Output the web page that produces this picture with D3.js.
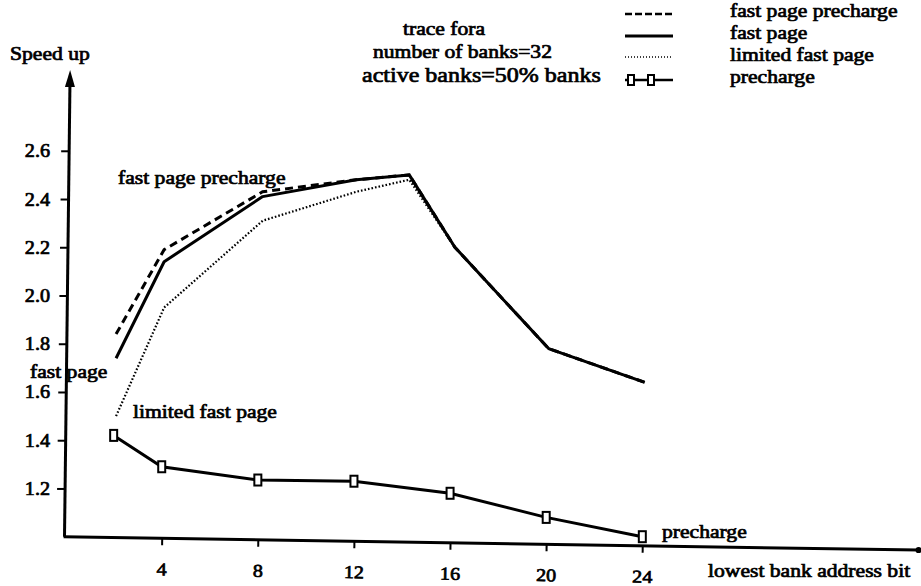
<!DOCTYPE html>
<html><head><meta charset="utf-8">
<script src="https://cdn.jsdelivr.net/npm/d3@7"></script>
<style>
body{margin:0;background:#fff}
svg{display:block;background:#fff}
text{font-family:"Liberation Serif","Times New Roman",serif;fill:#000}
</style>
</head><body>
<svg id="c" width="921" height="586"></svg>
<script>
// ---- data ----
const xTicks = [4, 8, 12, 16, 20, 24];
const yTicks = [1.2, 1.4, 1.6, 1.8, 2.0, 2.2, 2.4, 2.6];
const lineX = [2.1, 4.1, 8.2, 12.1, 14.3, 16.2, 20.1, 24.1];
const fastPagePrecharge = [1.84, 2.19, 2.43, 2.48, 2.50, 2.20, 1.78, 1.64];
const fastPage          = [1.74, 2.14, 2.41, 2.48, 2.50, 2.20, 1.78, 1.64];
const limitedFastPage   = [1.50, 1.95, 2.31, 2.43, 2.48, 2.20, 1.78, 1.64];
const prechargeX = [2, 4, 8, 12, 16, 20, 24];
const precharge  = [1.42, 1.29, 1.235, 1.23, 1.18, 1.08, 1.0];
const legendLabels = ["fast page precharge", "fast page", "limited fast page", "precharge"];
const titleLines = ["trace fora", "number of banks=32", "active banks=50% banks"];

// ---- setup ----
const svg = d3.select("#c");
const X0 = 65.6, Y0 = 536.7;
const x = d3.scaleLinear().domain([0, 35.5]).range([X0, X0 + 35.5 * 24.03]);
const y = d3.scaleLinear().domain([1, 2.92]).range([Y0, Y0 - 1.92 * 241.2]);
const FS = 18, STRETCH = 1.2, TS = 0.7;

function stretch(sel, f = STRETCH) {
  sel.each(function () {
    const w = this.getComputedTextLength();
    d3.select(this).attr("textLength", w * f).attr("lengthAdjust", "spacingAndGlyphs");
  });
  return sel;
}
function label(px, py, str, size = FS, anchor = "start") {
  const t = svg.append("text").attr("x", px).attr("y", py)
    .attr("text-anchor", anchor)
    .style("font-size", size + "px")
    .attr("stroke", "#000").attr("stroke-width", TS)
    .text(str);
  return stretch(t);
}

// ---- y axis ----
const axisXAt = yy => 64.5 + (537 - yy) * (5.5 / 457);
const yAxis = svg.append("g").attr("transform", `translate(66,0)`)
  .call(d3.axisLeft(y).tickValues(yTicks).tickSize(7).tickSizeOuter(0)
    .tickFormat(d3.format(".1f")));
yAxis.select(".domain").remove();
yAxis.selectAll(".tick line")
  .attr("stroke-width", 2)
  .attr("x1", d => axisXAt(y(d)) - 66 - 8)
  .attr("x2", d => axisXAt(y(d)) - 66);
yAxis.selectAll(".tick text")
  .attr("x", -16).attr("dy", null).attr("y", 6)
  .attr("font-family", null).attr("font-size", null)
  .style("font-size", FS + "px")
  .attr("stroke", "#000").attr("stroke-width", TS)
  .call(stretch, 1.12);
svg.append("path")
  .attr("d", `M${axisXAt(y(1))},${y(1)}L${axisXAt(84)},84`)
  .attr("stroke", "#000").attr("stroke-width", 3).attr("fill", "none");
svg.append("path")
  .attr("d", `M${axisXAt(70)},70L${axisXAt(86) - 5},87L${axisXAt(86) + 5},87Z`)
  .attr("fill", "#000");

// ---- x axis (scan is slightly tilted) ----
const xg = svg.append("g").attr("transform", `rotate(0.9,${X0},${Y0}) translate(0,${Y0})`)
  .call(d3.axisBottom(x).tickValues(xTicks).tickSize(7).tickSizeOuter(0));
xg.select(".domain").attr("stroke-width", 3)
  .attr("d", `M${X0 - 2},0H${x(35.5)}`);
xg.selectAll(".tick line").attr("stroke-width", 2);
xg.selectAll(".tick text")
  .attr("y", 37).attr("dy", null)
  .attr("font-family", null).attr("font-size", null)
  .style("font-size", FS + "px")
  .attr("stroke", "#000").attr("stroke-width", TS)
  .call(stretch, 1.12);
xg.append("circle").attr("cx", x(35.5)).attr("cy", 0).attr("r", 3).attr("fill", "#000");

// ---- series ----
const mk = xs => d3.line().x((d, i) => x(xs[i])).y(d => y(d));
svg.append("path").datum(limitedFastPage).attr("d", mk(lineX))
  .attr("fill", "none").attr("stroke", "#000").attr("stroke-width", 2.2)
  .attr("stroke-dasharray", "1.6,2");
svg.append("path").datum(fastPagePrecharge).attr("d", mk(lineX))
  .attr("fill", "none").attr("stroke", "#000").attr("stroke-width", 3)
  .attr("stroke-dasharray", "8,5");
svg.append("path").datum(fastPage).attr("d", mk(lineX))
  .attr("fill", "none").attr("stroke", "#000").attr("stroke-width", 3)
  .attr("stroke-linejoin", "round");
svg.append("path").datum(precharge).attr("d", mk(prechargeX))
  .attr("fill", "none").attr("stroke", "#000").attr("stroke-width", 3);
svg.selectAll("rect.pm").data(precharge).join("rect").attr("class", "pm")
  .attr("x", (d, i) => x(prechargeX[i]) - 3.5).attr("y", d => y(d) - 5.5)
  .attr("width", 7).attr("height", 11)
  .attr("fill", "#fff").attr("stroke", "#000").attr("stroke-width", 2);

// ---- texts ----
label(10, 60, "Speed up");
label(403, 35, titleLines[0]);
label(373, 58, titleLines[1]);
label(362, 82, titleLines[2], 20);
label(118, 184, "fast page precharge");
label(30, 378, "fast page");
label(133, 418, "limited fast page");
label(662, 538, "precharge");
label(708, 577, "lowest bank address bit");

// ---- legend ----
const legY = [17, 39, 61, 83];
legendLabels.forEach((s, i) => label(730, legY[i], s));
const lx1 = 625, lx2 = 673;
svg.append("line").attr("x1", lx1).attr("x2", lx2).attr("y1", legY[0] - 3).attr("y2", legY[0] - 3)
  .attr("stroke", "#000").attr("stroke-width", 2.5).attr("stroke-dasharray", "7,3");
svg.append("line").attr("x1", lx1).attr("x2", lx2).attr("y1", legY[1] - 3).attr("y2", legY[1] - 3)
  .attr("stroke", "#000").attr("stroke-width", 3);
svg.append("line").attr("x1", lx1).attr("x2", lx2).attr("y1", legY[2] - 4).attr("y2", legY[2] - 4)
  .attr("stroke", "#000").attr("stroke-width", 1.3).attr("stroke-dasharray", "1,2");
svg.append("line").attr("x1", lx1).attr("x2", lx2).attr("y1", legY[3] - 3).attr("y2", legY[3] - 3)
  .attr("stroke", "#000").attr("stroke-width", 2.5);
[631, 651].forEach(cx => svg.append("rect").attr("x", cx - 3).attr("y", legY[3] - 8)
  .attr("width", 6).attr("height", 10).attr("fill", "#fff").attr("stroke", "#000").attr("stroke-width", 2));
</script>
</body></html>
